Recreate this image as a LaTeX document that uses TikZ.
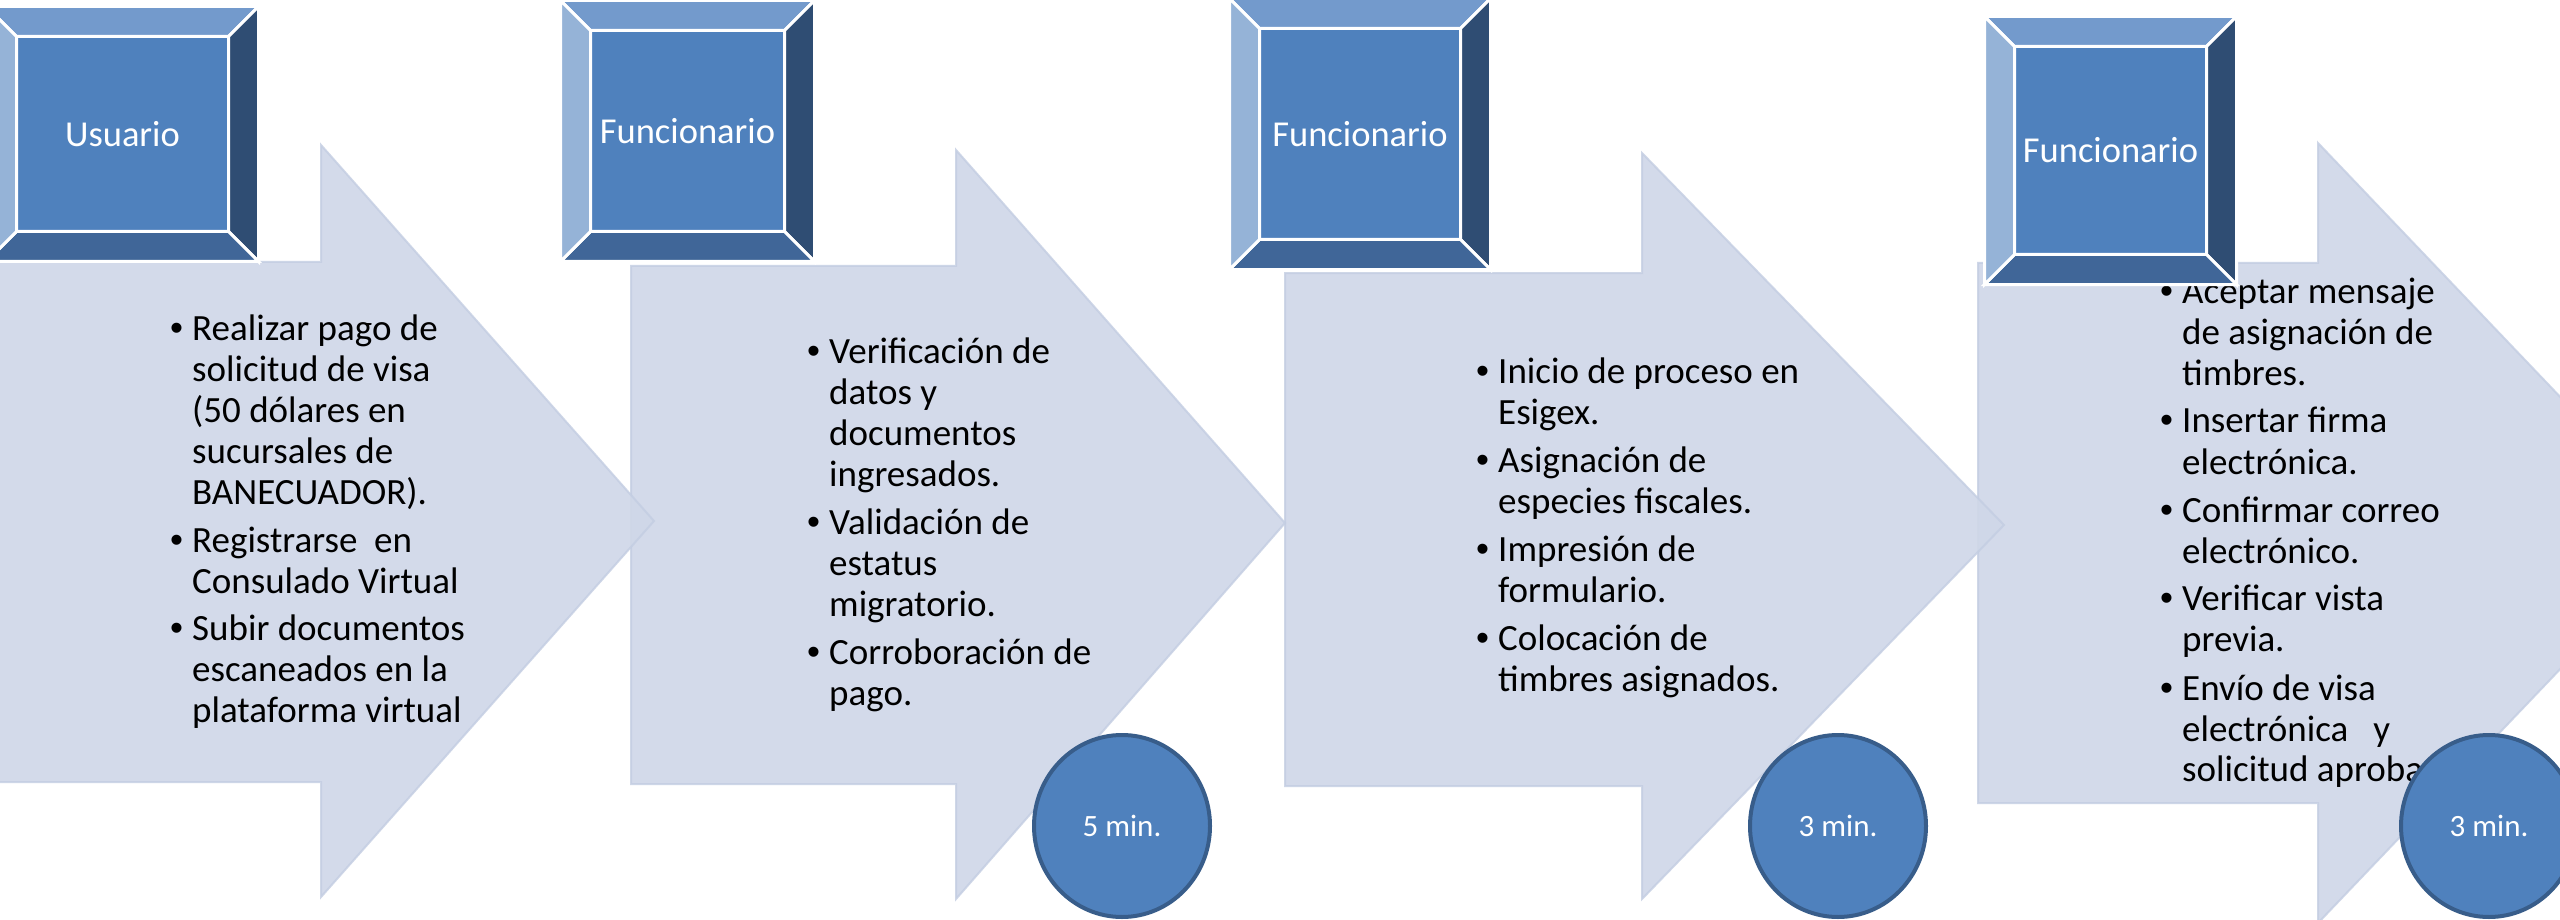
\documentclass[tikz,border=0pt]{standalone}
\usepackage{fontspec}
\setmainfont{Carlito}
\newfontfamily\bulletfont{Liberation Sans}
\usetikzlibrary{shapes.geometric}
\definecolor{facec}{HTML}{4F81BD}
\definecolor{topc}{HTML}{739ACC}
\definecolor{leftc}{HTML}{95B3D7}
\definecolor{rightc}{HTML}{2F4D73}
\definecolor{botc}{HTML}{406698}
\definecolor{arrfill}{RGB}{207,215,232}
\definecolor{arredge}{RGB}{195,205,226}
\definecolor{circedge}{HTML}{385D8A}
\newcommand\Bit[1]{\hbox{\makebox[22pt][l]{\bulletfont •}#1}}
\newcommand\Bct[1]{\hbox{\hspace*{22pt}#1}}
\newcommand\Bgap{\vskip7pt}
\newcommand\bevbox[6]{%
  \node[boxface, minimum width=#4pt, minimum height=#5pt] (#1) at (#2,#3) {#6};
  \draw[bevel, fill=topc] (#1.north west) -- (#1.north east) -- ([shift={(-30pt,-30pt)}]#1.north east) -- ([shift={(30pt,-30pt)}]#1.north west) -- cycle;
  \draw[bevel, fill=rightc] (#1.north east) -- (#1.south east) -- ([shift={(-30pt,30pt)}]#1.south east) -- ([shift={(-30pt,-30pt)}]#1.north east) -- cycle;
  \draw[bevel, fill=botc] (#1.south east) -- (#1.south west) -- ([shift={(30pt,30pt)}]#1.south west) -- ([shift={(-30pt,30pt)}]#1.south east) -- cycle;
  \draw[bevel, fill=leftc] (#1.south west) -- (#1.north west) -- ([shift={(30pt,-30pt)}]#1.north west) -- ([shift={(30pt,30pt)}]#1.south west) -- cycle;
  \draw[white, line width=3pt] (#1.north west) rectangle (#1.south east);
}
\begin{document}
\begin{tikzpicture}[x=1pt, y=-1pt,
  boxface/.style={rectangle, fill=facec, draw=white, line width=3pt, inner sep=0pt, text=white,
    font=\fontsize{36.5}{40}\selectfont},
  bevel/.style={draw=white, line width=3pt, line join=miter},
  arrowshape/.style={fill=arrfill, fill opacity=0.9, draw=arredge, draw opacity=0.8, line width=2pt, line join=miter},
  bodytext/.style={anchor=base west, inner sep=0pt, text=black, font=\fontsize{37}{41}\selectfont},
  circ/.style={ellipse, fill=facec, draw=circedge, line width=4pt, inner sep=0pt, text=white,
    font=\fontsize{31}{36}\selectfont, minimum width=176pt, minimum height=182pt}]
\useasboundingbox (0,0) rectangle (2560,920);
\clip (0,0) rectangle (2560,920);
\fill[white] (0,0) rectangle (2560,920);
% arrows (last one behind)
\draw[arrowshape] (1978,263) -- (2318,263) -- (2318,143) -- (2690,533) -- (2318,923) -- (2318,803) -- (1978,803) -- cycle;
\draw[arrowshape] (1285,273) -- (1642,273) -- (1642,153) -- (2004,525) -- (1642,899) -- (1642,786) -- (1285,786) -- cycle;
\draw[arrowshape] (631,266) -- (956,266) -- (956,150) -- (1285,523) -- (956,899) -- (956,784) -- (631,784) -- cycle;
\draw[arrowshape] (-5,262) -- (321,262) -- (321,145) -- (654,521) -- (321,897) -- (321,782) -- (-5,782) -- cycle;
% texts
\node[bodytext] (t1) at (170,340) {\vtop{%
  \Bit{Realizar pago de}\Bct{solicitud de visa}\Bct{(50 dólares en}\Bct{sucursales de}\Bct{BANECUADOR).}\Bgap
  \Bit{Registrarse\ \ en}\Bct{Consulado Virtual}\Bgap
  \Bit{Subir documentos}\Bct{escaneados en la}\Bct{plataforma virtual}}};
\node[bodytext] (t2) at (807,363) {\vtop{%
  \Bit{Verificación de}\Bct{datos y}\Bct{documentos}\Bct{ingresados.}\Bgap
  \Bit{Validación de}\Bct{estatus}\Bct{migratorio.}\Bgap
  \Bit{Corroboración de}\Bct{pago.}}};
\node[bodytext] (t3) at (1476,383) {\vtop{%
  \Bit{Inicio de proceso en}\Bct{Esigex.}\Bgap
  \Bit{Asignación de}\Bct{especies fiscales.}\Bgap
  \Bit{Impresión de}\Bct{formulario.}\Bgap
  \Bit{Colocación de}\Bct{timbres asignados.}}};
\node[bodytext] (t4) at (2160,303) {\vtop{%
  \Bit{Aceptar mensaje}\Bct{de asignación de}\Bct{timbres.}\Bgap
  \Bit{Insertar firma}\Bct{electrónica.}\Bgap
  \Bit{Confirmar correo}\Bct{electrónico.}\Bgap
  \Bit{Verificar vista}\Bct{previa.}\Bgap
  \Bit{Envío de visa}\Bct{electrónica\ \ \ y}\Bct{solicitud aprobada.}}};
% boxes
\bevbox{b1}{122.5}{134}{269}{252}{Usuario}
\bevbox{b2}{687.5}{131}{251}{258}{Funcionario}
\bevbox{b3}{1360}{134}{258}{268}{Funcionario}
\bevbox{b4}{2110.5}{150.5}{249}{265}{Funcionario}
% circles
\node[circ] (c1) at (1122,826) {5 min.};
\node[circ] (c2) at (1838,826) {3 min.};
\node[circ] (c3) at (2489,826) {3 min.};
\end{tikzpicture}
\end{document}
